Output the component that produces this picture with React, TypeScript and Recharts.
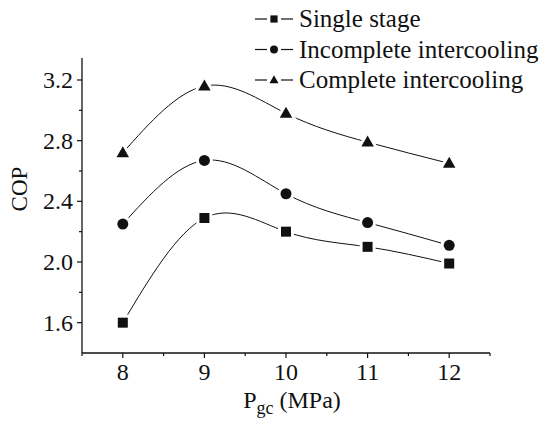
import { LineChart, Line, XAxis, YAxis, Label } from "recharts"

const pressure = [8, 9, 10, 11, 12]
const singleStage = [1.6, 2.29, 2.2, 2.1, 1.99]
const incompleteIntercooling = [2.25, 2.67, 2.45, 2.26, 2.11]
const completeIntercooling = [2.72, 3.16, 2.98, 2.79, 2.65]

const xTicks = [7.5, 8, 8.5, 9, 9.5, 10, 10.5, 11, 11.5, 12, 12.5]
const yTicks = [1.6, 1.8, 2.0, 2.2, 2.4, 2.6, 2.8, 3.0, 3.2]

const seriesNames = ["Single stage", "Incomplete intercooling", "Complete intercooling"]
const seriesShapes = ["square", "circle", "triangle"]

const data = pressure.map((p, i) => ({
  p,
  single: singleStage[i],
  incomplete: incompleteIntercooling[i],
  complete: completeIntercooling[i],
}))

const FONT = "Liberation Serif"
const INK = "#111"

// filled marker; the white halo cuts the curve short of the symbol like Origin does
function Marker({ cx, cy, shape, size = 1, halo = true }: any) {
  if (cx == null || cy == null) return null
  const haloProps = halo
    ? { stroke: "#fff", strokeWidth: 6, paintOrder: "stroke" as any }
    : { stroke: "none" }
  if (shape === "square") {
    const s = 10 * size
    return <rect x={cx - s / 2} y={cy - s / 2} width={s} height={s} fill={INK} {...haloProps} />
  }
  if (shape === "circle") {
    return <circle cx={cx} cy={cy} r={5.5 * size} fill={INK} {...haloProps} />
  }
  const h = 11 * size
  const w = 12.5 * size
  return (
    <polygon
      points={`${cx},${cy - h * 0.6} ${cx + w / 2},${cy + h * 0.4} ${cx - w / 2},${cy + h * 0.4}`}
      fill={INK}
      {...haloProps}
    />
  )
}

function XTick({ x, y, payload }: any) {
  const v = payload.value
  const major = Number.isInteger(v)
  return (
    <g>
      <line x1={x} x2={x} y1={y} y2={y + (major ? 5 : 3)} stroke={INK} strokeWidth={1.2} />
      {major && (
        <text x={x} y={y + 27} textAnchor="middle" fontSize={24} style={{ fontFamily: FONT }} fill={INK}>
          {v}
        </text>
      )}
    </g>
  )
}

function YTick({ x, y, payload }: any) {
  const v = payload.value
  const major = Math.round(v * 10) % 4 === 0
  return (
    <g>
      <line x1={x} x2={x - (major ? 5 : 3)} y1={y} y2={y} stroke={INK} strokeWidth={1.2} />
      {major && (
        <text x={x - 9} y={y} dy="0.34em" textAnchor="end" fontSize={24} style={{ fontFamily: FONT }} fill={INK}>
          {v.toFixed(1)}
        </text>
      )}
    </g>
  )
}

function LegendBox() {
  return (
    <svg width={294} height={100} style={{ display: "block" }}>
      {seriesNames.map((name, i) => {
        const cy = 19 + i * 30.5
        return (
          <g key={name}>
            <line x1={5} x2={17} y1={cy} y2={cy} stroke={INK} strokeWidth={1.2} />
            <line x1={31} x2={43} y1={cy} y2={cy} stroke={INK} strokeWidth={1.2} />
            <Marker cx={24} cy={cy} shape={seriesShapes[i]} size={0.72} halo={false} />
            <text x={49} y={cy + 8} fontSize={25} style={{ fontFamily: FONT }} fill={INK}>
              {name}
            </text>
          </g>
        )
      })}
    </svg>
  )
}

export default function App() {
  const keys = ["single", "incomplete", "complete"]
  return (
    <div style={{ position: "absolute", left: 0, top: 0, width: 544, height: 423, background: "#fff" }}>
      <LineChart
        width={544}
        height={423}
        data={data}
        margin={{ top: 58, right: 54, bottom: 0, left: 0 }}
      >
        <XAxis
          dataKey="p"
          type="number"
          domain={[7.5, 12.5]}
          ticks={xTicks}
          interval={0}
          height={70}
          tickSize={0}
          tickMargin={0}
          tickLine={false}
          tick={<XTick />}
          axisLine={{ stroke: INK, strokeWidth: 1.3 }}
        >
          <Label
            content={({ viewBox }: any) => (
              <text
                x={viewBox.x + viewBox.width / 2 + 6}
                y={viewBox.y + 55}
                textAnchor="middle"
                fontSize={24}
                style={{ fontFamily: FONT }}
                fill={INK}
              >
                P
                <tspan dy={6} fontSize={18}>
                  gc
                </tspan>
                <tspan dy={-6}> (MPa)</tspan>
              </text>
            )}
          />
        </XAxis>
        <YAxis
          type="number"
          domain={[1.4, 3.345]}
          ticks={yTicks}
          interval={0}
          width={82}
          tickSize={0}
          tickMargin={0}
          tickLine={false}
          tick={<YTick />}
          axisLine={{ stroke: INK, strokeWidth: 1.3 }}
        >
          <Label
            content={() => (
              <text
                x={19}
                y={189}
                transform="rotate(-90, 19, 189)"
                textAnchor="middle"
                dy="0.34em"
                fontSize={23}
                style={{ fontFamily: FONT }}
                fill={INK}
              >
                COP
              </text>
            )}
          />
        </YAxis>
        {keys.map((k, i) => (
          <Line
            key={k}
            dataKey={k}
            name={seriesNames[i]}
            type="natural"
            stroke={INK}
            strokeWidth={1}
            isAnimationActive={false}
            dot={(props: any) => <Marker key={`${k}-${props.index}`} {...props} shape={seriesShapes[i]} />}
            activeDot={false}
          />
        ))}
      </LineChart>
      <div style={{ position: "absolute", left: 250, top: 0 }}>
        <LegendBox />
      </div>
    </div>
  )
}
